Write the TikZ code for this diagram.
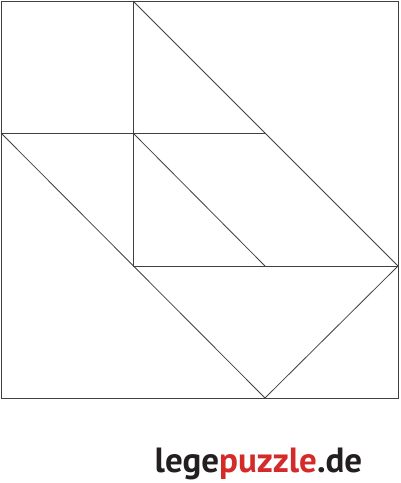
\documentclass[tikz,border=0pt]{standalone}
\usepackage{fontspec}
\newfontfamily\logofont{PT Sans}
\usepackage{xcolor}
\definecolor{logogray}{HTML}{231F20}
\definecolor{logored}{HTML}{D42A2A}
\usetikzlibrary{positioning}
\tikzset{
    piece/.style={
        draw=black!75,
        line width=0.8pt
    }
}

\begin{document}
\begin{tikzpicture}[
      x = 1pt,
      y = -1pt,
      logo/.style = {font=\logofont\bfseries\fontsize{35}{35}\selectfont, inner sep=0pt, anchor=base}
  ]
  \useasboundingbox (0,0) rectangle (400,483);
  % Define the corner points
  \coordinate (a0) at (1,1);
  \coordinate (a1) at (133,1);
  \coordinate (a3) at (398,1);
  \coordinate (b0) at (1,133);
  \coordinate (b1) at (133,133);
  \coordinate (b2) at (265,133);
  \coordinate (c1) at (133,266);
  \coordinate (c2) at (265,266);
  \coordinate (c3) at (398,266);
  \coordinate (d0) at (1,398);
  \coordinate (d2) at (265,398);
  \coordinate (d3) at (398,398);

  % Outer square
  \draw[piece] (a0) rectangle (d3);

  % Inner cuts
  \draw[piece] (a1) -- (c1);
  \draw[piece] (b0) -- (b2);
  \draw[piece] (a1) -- (c3);
  \draw[piece] (b1) -- (c2);
  \draw[piece] (c1) -- (c3);
  \draw[piece] (b0) -- (d2);
  \draw[piece] (d2) -- (c3);

  % Logo
  \node[logo] (logo) at (258.5,472) {\textcolor{logogray}{lege}\textcolor{logored}{puzzle}\textcolor{logogray}{.de}};
\end{tikzpicture}
\end{document}
